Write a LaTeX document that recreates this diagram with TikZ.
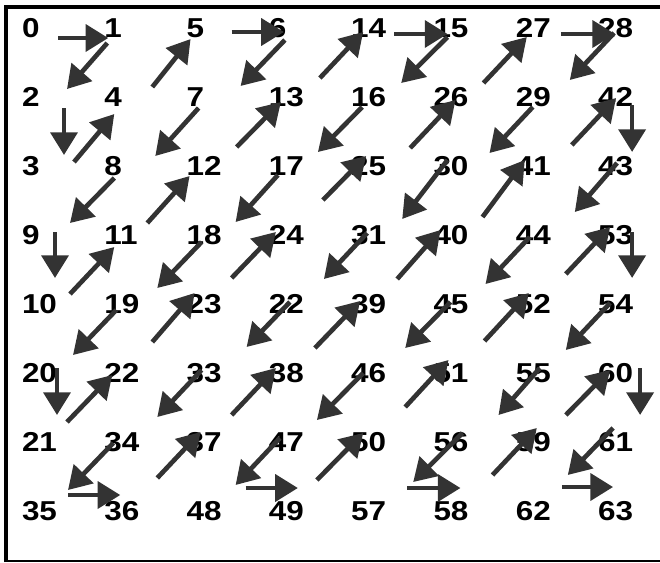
\documentclass[tikz,border=0pt]{standalone}
\usepackage{fontspec}
\newfontfamily\numfont{Liberation Sans}[FakeStretch=1.15]
\usepackage{xcolor}
\definecolor{scanGray}{RGB}{51,51,51}
\usetikzlibrary{arrows.meta}

\begin{document}
\begin{tikzpicture}[x=0.75pt, y=-0.75pt,
    coef/.style={anchor=west, inner sep=0pt, outer sep=0pt,
      font={\numfont\bfseries\fontsize{20.5}{24}\selectfont}},
    scan/.style={draw=scanGray, line width=3.5pt,
      -{Triangle[length=17pt,width=20pt]}},
    >=Stealth
  ]
  \useasboundingbox (0,0) rectangle (660,562);

  % Frame
  \draw[line width=3pt] (6,562) -- (6,7) -- (660,7);
  \draw[line width=1pt] (4,561) -- (660,561);

  % Coefficient indices, row by row
  \foreach \k [count=\c from 0] in {0,1,5,6,14,15,27,28}
    \node[coef] (z\k) at ({22+82.3*\c},28) {\k};
  \foreach \k [count=\c from 0] in {2,4,7,13,16,26,29,42}
    \node[coef] (z\k) at ({22+82.3*\c},97) {\k};
  \foreach \k [count=\c from 0] in {3,8,12,17,25,30,41,43}
    \node[coef] (z\k) at ({22+82.3*\c},166) {\k};
  \foreach \k [count=\c from 0] in {9,11,18,24,31,40,44,53}
    \node[coef] (z\k) at ({22+82.3*\c},235) {\k};
  \foreach \k/\t [count=\c from 0] in {10/10,19/19,23/23,32/22,39/39,45/45,52/52,54/54}
    \node[coef] (z\k) at ({22+82.3*\c},304) {\t};
  \foreach \k [count=\c from 0] in {20,22,33,38,46,51,55,60}
    \node[coef] (z\k) at ({22+82.3*\c},373) {\k};
  \foreach \k [count=\c from 0] in {21,34,37,47,50,56,59,61}
    \node[coef] (z\k) at ({22+82.3*\c},442) {\k};
  \foreach \k [count=\c from 0] in {35,36,48,49,57,58,62,63}
    \node[coef] (z\k) at ({22+82.3*\c},511) {\k};

  % Zigzag scan arrows (from/to, with offsets from each number)
  \foreach \a/\b/\sx/\sy/\ex/\ey in {
      0/1/36/10/4/10, 1/2/3/15/45/-8, 2/3/42/11/42/-11, 3/4/52/-4/10/17,
      4/5/48/-10/4/11, 5/6/45/4/15/4, 6/7/16/12/54/-11, 7/8/12/11/51/-10,
      8/9/10/12/48/-12, 9/10/33/-3/33/-26, 10/11/48/-10/10/12, 11/12/43/-12/3/10,
      12/13/50/-19/12/5, 13/14/51/-19/12/4, 14/15/43/6/14/6, 15/16/14/9/50/-14,
      16/17/11/10/49/-14, 17/18/9/9/49/-13, 18/19/15/7/53/-16, 19/20/12/6/51/-18,
      20/21/35/-5/35/-27, 21/22/45/-20/8/2, 22/23/48/-31/8/-11, 23/24/45/-26/7/-3,
      24/25/54/-35/15/-10, 25/26/59/-18/22/3, 26/27/50/-14/11/9, 27/28/45/6/17/6,
      28/29/16/5/54/-17, 29/30/17/10/56/-13, 30/31/14/-6/51/-16, 31/32/16/-2/55/-25,
      32/33/21/-2/60/-26, 33/34/15/-3/53/-25, 34/35/9/1/46/-21, 35/36/46/-16/16/-16,
      36/37/53/-33/14/-10, 37/38/45/-27/7/-5, 38/39/46/-25/9/-3, 39/40/46/-25/7/-5,
      40/41/49/-18/9/-6, 41/42/56/-21/18/1, 42/43/34/8/34/-14, 43/44/19/-3/59/-23,
      44/45/14/2/52/-20, 45/46/17/-2/54/-25, 46/47/12/0/48/-22, 47/48/11/-4/49/-26,
      48/49/59/-23/29/-23, 49/50/48/-31/12/-9, 50/51/54/-35/15/-13, 51/52/51/-32/13/-11,
      52/53/50/-30/12/-8, 53/54/34/-3/34/-26, 54/55/12/-1/50/-23, 55/56/24/-5/65/-27,
      56/57/29/-9/62/-29, 57/58/56/-23/27/-23, 58/59/59/-36/21/-14, 59/60/50/-27/12/-3,
      60/61/42/-5/42/-27, 61/62/15/-14/52/-36, 62/63/46/-24/15/-24}
    \draw[scan] ([shift={(\sx,\sy)}]z\a.west) -- ([shift={(\ex,\ey)}]z\b.west);
\end{tikzpicture}
\end{document}
